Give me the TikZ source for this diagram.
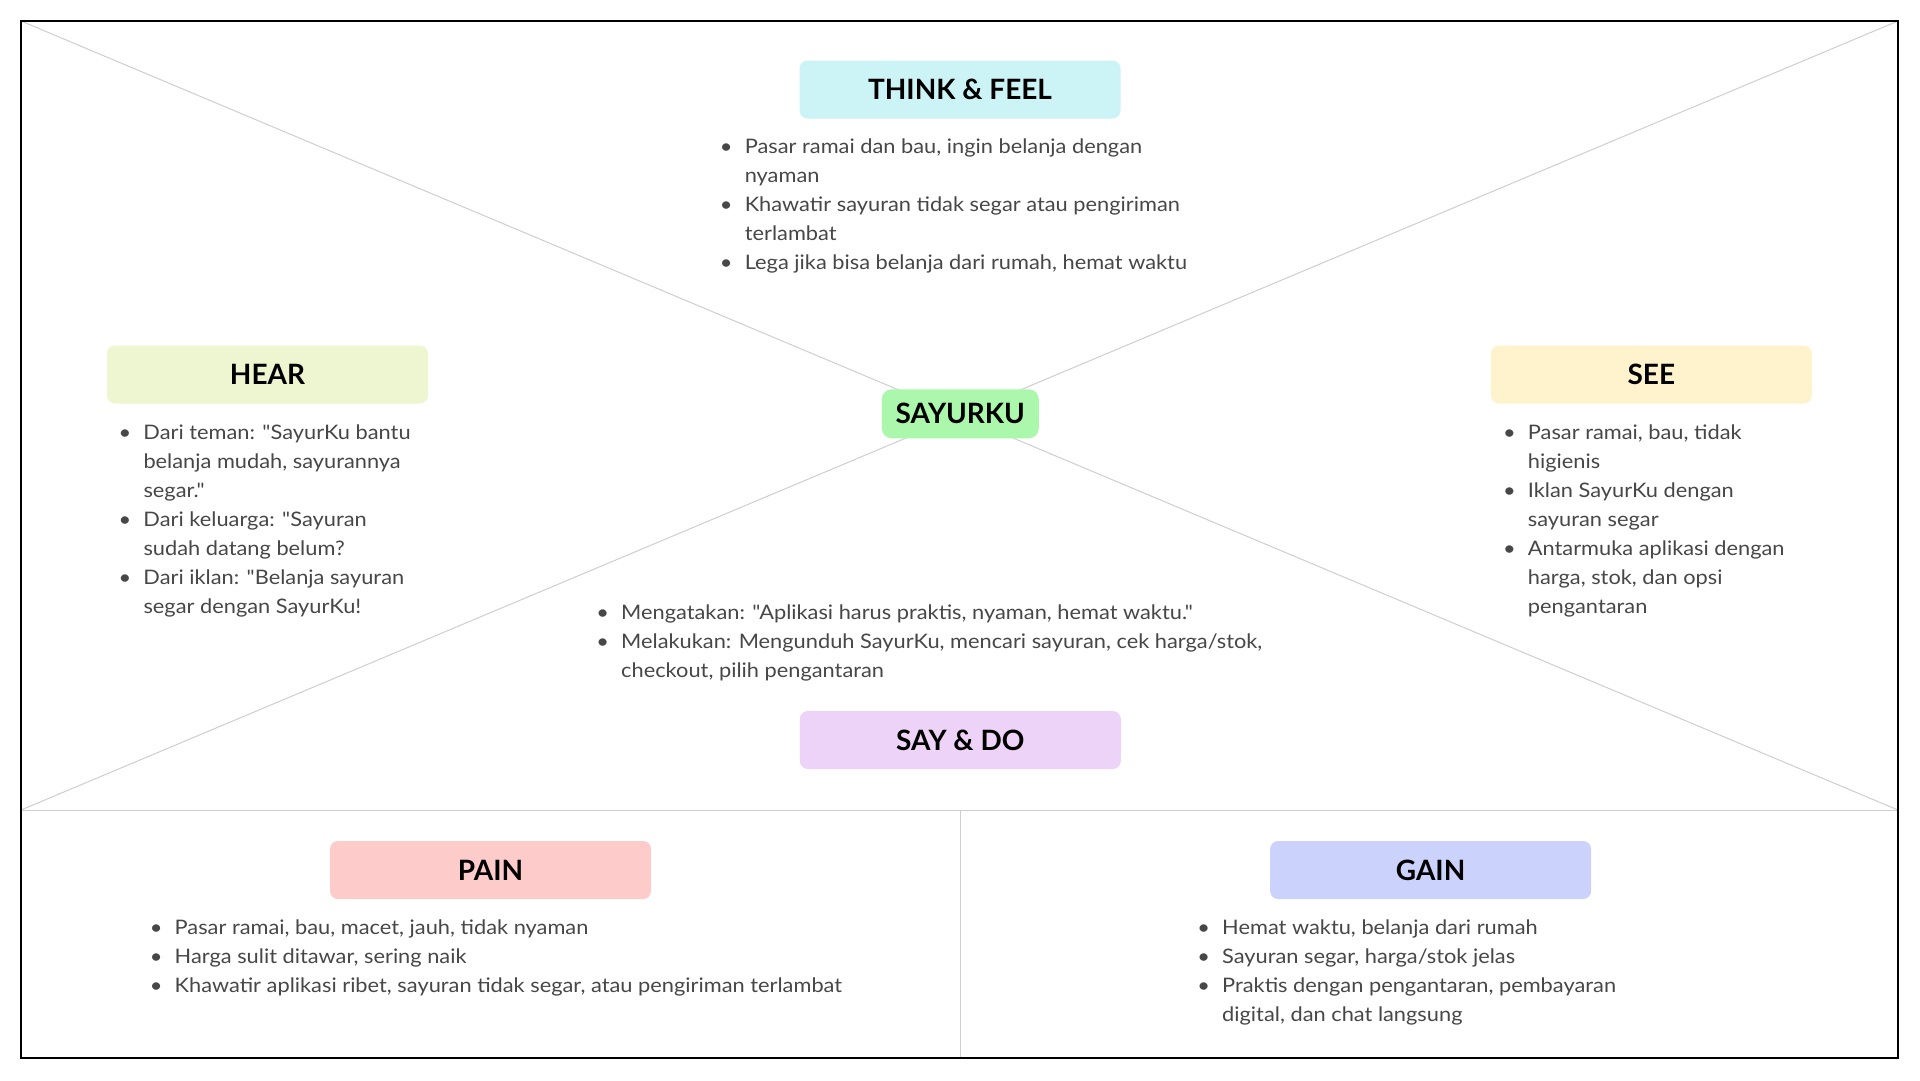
\documentclass[tikz,border=0pt]{standalone}
\usepackage{fontspec}
\setmainfont{Lato}[Ligatures=TeXOff]
\newfontfamily\listfont{Lato}[FakeStretch=1.09, Ligatures=TeXOff]
\definecolor{txt}{HTML}{474747}
\definecolor{linegray}{HTML}{CFCFCF}
\definecolor{cThink}{HTML}{CCF3F6}
\definecolor{cHear}{HTML}{EEF6D1}
\definecolor{cSee}{HTML}{FEF3CD}
\definecolor{cSay}{HTML}{EDD3F7}
\definecolor{cPain}{HTML}{FECBCB}
\definecolor{cGain}{HTML}{CBD3FD}
\definecolor{cCore}{HTML}{ABF7AB}
\newcommand\bl{\strut\makebox[37pt][c]{\textbullet}}
\newcommand\cl{\strut\hspace*{37pt}}
\begin{document}
\begin{tikzpicture}[x=1pt,y=-1pt,
  hdr/.style={rounded corners=8pt, minimum width=321pt, minimum height=58pt, inner sep=0pt,
    font=\fontsize{28}{34}\selectfont\bfseries, text=black},
  core/.style={rounded corners=10pt, minimum width=157pt, minimum height=49pt, inner sep=0pt,
    font=\fontsize{28}{34}\selectfont\bfseries, text=black, fill=cCore},
  lst/.style={anchor=north west, inner sep=0pt, align=left, text=txt,
    font=\listfont\fontsize{20}{29}\selectfont},
  sep/.style={draw=linegray, line width=1pt}]
\useasboundingbox (0,0) rectangle (1920,1080);
\fill[white] (0,0) rectangle (1920,1080);

\coordinate (tl) at (21,21);
\coordinate (tr) at (1898,21);
\coordinate (ml) at (21,810);
\coordinate (mr) at (1898,810);
\coordinate (ctr) at (959.5,415.5);
\coordinate (mc) at (960,810);
\coordinate (bc) at (960,1058);
\coordinate (br) at (1898,1058);

\draw[sep] (tl) -- (ctr);
\draw[sep] (tr) -- (ctr);
\draw[sep] (ml) -- (ctr);
\draw[sep] (mr) -- (ctr);
\draw[sep] (ml) -- (mr);
\draw[sep] (mc) -- (bc);

\draw[line width=2.5pt] (tl) rectangle (br);

\node[core] (core) at (960.3,413.8) {SAYURKU};

\node[hdr, fill=cThink] (think) at (960,89.5) {THINK \& FEEL};
\node[hdr, fill=cHear] (hear) at (267.5,374.5) {HEAR};
\node[hdr, fill=cSee] (see) at (1651.3,374.5) {SEE};
\node[hdr, fill=cSay] (say) at (960.3,740) {SAY \& DO};
\node[hdr, fill=cPain] (pain) at (490.5,870) {PAIN};
\node[hdr, fill=cGain] (gain) at (1430.6,870) {GAIN};

\node[lst] (thinkl) at (707.6,133.2) {\bl Pasar ramai dan bau, ingin belanja dengan\\\cl nyaman\\\bl Khawatir sayuran tidak segar atau pengiriman\\\cl terlambat\\\bl Lega jika bisa belanja dari rumah, hemat waktu};

\node[lst] (hearl) at (106.3,418.7) {\bl Dari teman: "SayurKu bantu\\\cl belanja mudah, sayurannya\\\cl segar."\\\bl Dari keluarga: "Sayuran\\\cl sudah datang belum?\\\bl Dari iklan: "Belanja sayuran\\\cl segar dengan SayurKu!};

\node[lst] (seel) at (1490.7,418.7) {\bl Pasar ramai, bau, tidak\\\cl higienis\\\bl Iklan SayurKu dengan\\\cl sayuran segar\\\bl Antarmuka aplikasi dengan\\\cl harga, stok, dan opsi\\\cl pengantaran};

\node[lst] (sayl) at (584,598.5) {\bl Mengatakan: "Aplikasi harus praktis, nyaman, hemat waktu."\\\bl Melakukan: Mengunduh SayurKu, mencari sayuran, cek harga/stok,\\\cl checkout, pilih pengantaran};

\node[lst] (painl) at (137.5,913.5) {\bl Pasar ramai, bau, macet, jauh, tidak nyaman\\\bl Harga sulit ditawar, sering naik\\\bl Khawatir aplikasi ribet, sayuran tidak segar, atau pengiriman terlambat};

\node[lst] (gainl) at (1185,913.5) {\bl Hemat waktu, belanja dari rumah\\\bl Sayuran segar, harga/stok jelas\\\bl Praktis dengan pengantaran, pembayaran\\\cl digital, dan chat langsung};
\end{tikzpicture}
\end{document}
